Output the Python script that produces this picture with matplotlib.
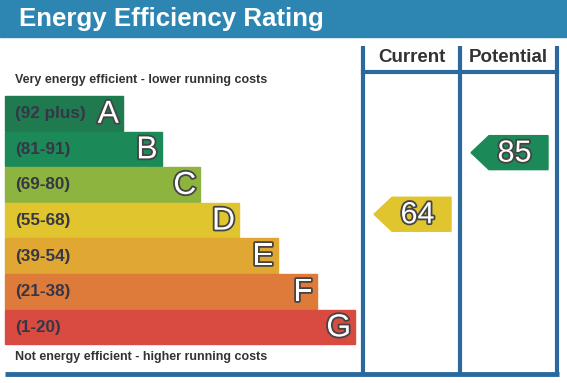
import matplotlib
matplotlib.use("Agg")
import matplotlib.pyplot as plt
import matplotlib.patheffects as pe
from matplotlib.patches import Rectangle, Polygon

plt.rcParams['font.family'] = ['Liberation Sans', 'DejaVu Sans']

# EPC bands, best to worst
letters = ['A', 'B', 'C', 'D', 'E', 'F', 'G']
ranges = ['(92 plus)', '(81-91)', '(69-80)', '(55-68)', '(39-54)', '(21-38)', '(1-20)']
band_lo = [92, 81, 69, 55, 39, 21, 1]
band_hi = [100, 91, 80, 68, 54, 38, 20]
colors = ['#1f7a50', '#1b8a58', '#8cb43e', '#e0c52e', '#e0a733', '#df7b3a', '#d94a40']

current = 64
potential = 85

W, H = 567, 383
fig = plt.figure(figsize=(W / 100, H / 100), dpi=100)
ax = fig.add_axes([0, 0, 1, 1])
ax.set_xlim(0, W)
ax.set_ylim(H, 0)
ax.axis('off')

# title bar
ax.add_patch(Rectangle((0, 0), W, 37, color='#2d86b1'))
ax.text(19, 19, 'Energy Efficiency Rating', color='white', fontsize=18.6,
        fontweight='bold', va='center', ha='left')

# bands
top, bh = 96, 35.6
x0, w0, step = 5, 118, 38.7
outline = [pe.withStroke(linewidth=2.6, foreground='#444444')]
for i, (let, rng, col) in enumerate(zip(letters, ranges, colors)):
    y = top + i * bh
    w = w0 + i * step
    ax.add_patch(Rectangle((x0, y), w, bh - 1, color=col))
    ax.text(x0 + 10, y + bh / 2, rng, color='#363646', fontsize=12.3,
            fontweight='bold', va='center', ha='left')
    ax.text(x0 + w - 4, y + bh / 2 + 1, let, color='white', fontsize=23,
            va='center', ha='right', path_effects=outline)

ax.text(15, 80, 'Very energy efficient - lower running costs', color='#333333',
        fontsize=9, fontweight='bold', va='center')
ax.text(15, 357, 'Not energy efficient - higher running costs', color='#333333',
        fontsize=9, fontweight='bold', va='center')

# frame with the two columns
lc = '#2b689e'
cl, cm, cr = 363, 460, 557
ytop, yhead, ybot = 46, 72, 374
for xv in (cl, cm, cr):
    ax.plot([xv, xv], [ytop, ybot], color=lc, lw=3, solid_capstyle='butt')
ax.plot([cl, cr], [yhead, yhead], color=lc, lw=3)
ax.plot([5, cr + 1.5], [ybot, ybot], color=lc, lw=3.5, solid_capstyle='butt')
ax.text((cl + cm) / 2, 58, 'Current', color='#333333', fontsize=13.5,
        fontweight='bold', ha='center', va='center')
ax.text((cm + cr) / 2, 58, 'Potential', color='#333333', fontsize=13.5,
        fontweight='bold', ha='center', va='center')


def band_of(v):
    for i in range(len(letters)):
        if band_lo[i] <= v <= band_hi[i]:
            return i
    return len(letters) - 1


def arrow(v, xl, xr):
    i = band_of(v)
    frac = (band_hi[i] - v + 0.5) / (band_hi[i] - band_lo[i] + 1)
    yc = top + i * bh + frac * bh
    h = 34
    tip = 18
    pts = [(xl, yc), (xl + tip, yc - h / 2), (xr, yc - h / 2),
           (xr, yc + h / 2), (xl + tip, yc + h / 2)]
    ax.add_patch(Polygon(pts, closed=True, color=colors[i]))
    ax.text((xl + tip + xr) / 2 - 4, yc + 1, str(v), color='white', fontsize=22,
            ha='center', va='center', path_effects=outline)


arrow(current, 374, 451)
arrow(potential, 471, 548)

fig.savefig('out.png', dpi=100, facecolor='white')
